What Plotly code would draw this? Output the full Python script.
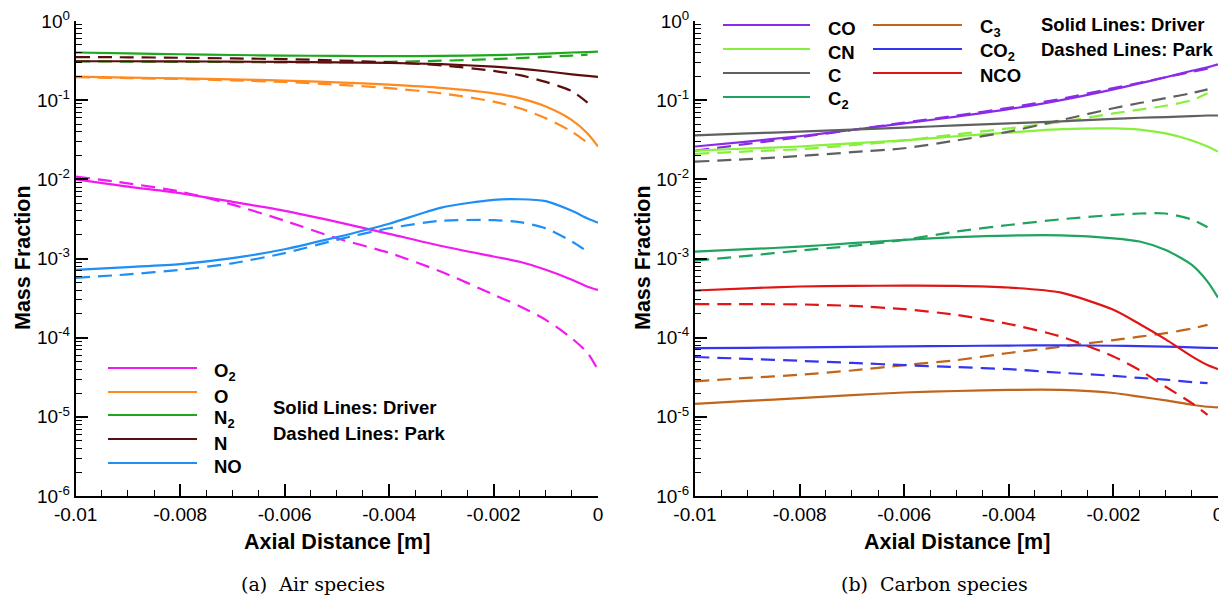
import plotly.graph_objects as go
from plotly.subplots import make_subplots

# The page body adds an 8 px margin, so the figure is drawn 8 px smaller
# and every pixel position below is given in reference-image pixels.
OX, OY = 8, 8
W, H = 1227 - OX, 598 - OY

# ---------------- data ----------------
x_solid = [-0.01, -0.009, -0.008, -0.007, -0.006, -0.005, -0.004, -0.003, -0.002, -0.0015, -0.001, -0.0005, -0.0002, 0.0]
x_dashed = [-0.01, -0.009, -0.008, -0.007, -0.006, -0.005, -0.004, -0.003, -0.002, -0.0015, -0.001, -0.0005, -0.0002]
x_dashed_o2 = [-0.01, -0.009, -0.008, -0.007, -0.006, -0.005, -0.004, -0.003, -0.002, -0.0015, -0.001, -0.0005, -0.0002, 0.0]

# (a) Air species
o2_driver = [0.0100, 0.0081, 0.0067, 0.0052, 0.0040, 0.0029, 0.00205, 0.00144, 0.00106, 0.00091, 0.00072, 0.00054, 0.00044, 0.0004]
o2_park = [0.0108, 0.0089, 0.0070, 0.0048, 0.0030, 0.0018, 0.00118, 0.00068, 0.00035, 0.00025, 0.000168, 9.8e-5, 6.4e-5, 3.9e-5]
o_driver = [0.198, 0.193, 0.188, 0.183, 0.177, 0.168, 0.157, 0.143, 0.122, 0.106, 0.083, 0.056, 0.038, 0.026]
o_park = [0.195, 0.190, 0.185, 0.178, 0.170, 0.157, 0.142, 0.122, 0.096, 0.079, 0.059, 0.040, 0.029]
n2_driver = [0.40, 0.39, 0.38, 0.372, 0.366, 0.362, 0.36, 0.362, 0.37, 0.378, 0.388, 0.40, 0.405, 0.41]
n2_park = [0.31, 0.307, 0.305, 0.303, 0.30, 0.30, 0.305, 0.315, 0.33, 0.34, 0.352, 0.366, 0.375]
n_driver = [0.31, 0.31, 0.309, 0.307, 0.304, 0.30, 0.295, 0.285, 0.265, 0.25, 0.232, 0.212, 0.203, 0.197]
n_park = [0.35, 0.348, 0.343, 0.337, 0.33, 0.318, 0.30, 0.275, 0.235, 0.207, 0.17, 0.13, 0.093]
no_driver = [0.00072, 0.00078, 0.00085, 0.00101, 0.00131, 0.00186, 0.00275, 0.0044, 0.0055, 0.0056, 0.0053, 0.0040, 0.0032, 0.00284]
no_park = [0.00057, 0.00063, 0.00072, 0.00087, 0.00117, 0.00172, 0.00241, 0.0030, 0.00305, 0.00288, 0.0024, 0.00164, 0.00122]

# (b) Carbon species
co_driver = [0.026, 0.030, 0.035, 0.042, 0.051, 0.062, 0.077, 0.100, 0.137, 0.163, 0.195, 0.235, 0.26, 0.284]
co_park = [0.023, 0.028, 0.034, 0.042, 0.052, 0.064, 0.080, 0.104, 0.142, 0.166, 0.195, 0.228, 0.25]
cn_driver = [0.023, 0.0245, 0.026, 0.0285, 0.031, 0.035, 0.039, 0.043, 0.044, 0.0425, 0.038, 0.031, 0.026, 0.0224]
cn_park = [0.021, 0.0225, 0.024, 0.027, 0.031, 0.037, 0.044, 0.053, 0.068, 0.076, 0.085, 0.10, 0.122]
c_driver = [0.036, 0.038, 0.040, 0.0425, 0.045, 0.048, 0.051, 0.054, 0.058, 0.060, 0.061, 0.063, 0.064, 0.064]
c_park = [0.0167, 0.018, 0.0197, 0.022, 0.0247, 0.031, 0.040, 0.056, 0.079, 0.092, 0.106, 0.123, 0.137]
c2_driver = [0.00122, 0.00131, 0.00141, 0.00156, 0.00172, 0.00186, 0.00195, 0.00196, 0.0018, 0.00164, 0.00128, 0.00083, 0.00051, 0.00032]
c2_park = [0.00094, 0.00108, 0.00126, 0.00144, 0.00172, 0.00219, 0.00265, 0.00313, 0.00355, 0.0037, 0.0037, 0.0031, 0.00248]
c3_driver = [1.46e-5, 1.59e-5, 1.72e-5, 1.88e-5, 2.03e-5, 2.12e-5, 2.19e-5, 2.19e-5, 2.0e-5, 1.8e-5, 1.61e-5, 1.42e-5, 1.34e-5, 1.32e-5]
c3_park = [2.8e-5, 3.1e-5, 3.4e-5, 3.85e-5, 4.5e-5, 5.2e-5, 6.4e-5, 7.7e-5, 9.3e-5, 1.03e-4, 1.14e-4, 1.3e-4, 1.45e-4]
co2_driver = [7.36e-5, 7.45e-5, 7.55e-5, 7.65e-5, 7.75e-5, 7.85e-5, 7.95e-5, 8.0e-5, 7.9e-5, 7.8e-5, 7.7e-5, 7.55e-5, 7.45e-5, 7.4e-5]
co2_park = [5.7e-5, 5.4e-5, 5.1e-5, 4.8e-5, 4.5e-5, 4.25e-5, 4.0e-5, 3.6e-5, 3.3e-5, 3.1e-5, 2.95e-5, 2.75e-5, 2.66e-5]
nco_driver = [0.000394, 0.00042, 0.000443, 0.00045, 0.000455, 0.000452, 0.00043, 0.00037, 0.000225, 0.000149, 9.5e-5, 5.8e-5, 4.5e-5, 4.0e-5]
nco_park = [2.65e-4, 2.65e-4, 2.63e-4, 2.52e-4, 2.29e-4, 1.94e-4, 1.49e-4, 1.03e-4, 5.8e-5, 3.9e-5, 2.4e-5, 1.49e-5, 1.06e-5]

x_tick_vals = [-0.01, -0.008, -0.006, -0.004, -0.002, 0.0]
x_tick_text = ["-0.01", "-0.008", "-0.006", "-0.004", "-0.002", "0"]
y_tick_vals = [1e-6, 1e-5, 1e-4, 1e-3, 1e-2, 1e-1, 1e0]
y_tick_text = ["10<sup>-6</sup>", "10<sup>-5</sup>", "10<sup>-4</sup>", "10<sup>-3</sup>",
               "10<sup>-2</sup>", "10<sup>-1</sup>", "10<sup>0</sup>"]

# ---------------- styling ----------------
air_species = [
    ("O<sub>2</sub>", "#f21af2", o2_driver, x_dashed_o2, o2_park),
    ("O", "#ff8a1f", o_driver, x_dashed, o_park),
    ("N<sub>2</sub>", "#1ea81e", n2_driver, x_dashed, n2_park),
    ("N", "#5c0d0d", n_driver, x_dashed, n_park),
    ("NO", "#1f8ff5", no_driver, x_dashed, no_park),
]
carbon_species = [
    ("CO", "#8a2be8", co_driver, x_dashed, co_park),
    ("CN", "#86f03a", cn_driver, x_dashed, cn_park),
    ("C", "#606060", c_driver, x_dashed, c_park),
    ("C<sub>2</sub>", "#1fa35f", c2_driver, x_dashed, c2_park),
    ("C<sub>3</sub>", "#c0651a", c3_driver, x_dashed, c3_park),
    ("CO<sub>2</sub>", "#3535f0", co2_driver, x_dashed, co2_park),
    ("NCO", "#e01515", nco_driver, x_dashed, nco_park),
]

FONT = "Liberation Sans, Arial, sans-serif"
LW = 2.2
DASH = "14px,8px"

fig = make_subplots(rows=1, cols=2, horizontal_spacing=0.05)

for col, group in ((1, air_species), (2, carbon_species)):
    for name, color, yd, xp, yp in group:
        fig.add_trace(go.Scatter(x=x_solid, y=yd, mode="lines", name=name,
                                 line=dict(color=color, width=LW, shape="spline", smoothing=0.7),
                                 showlegend=False, hoverinfo="skip"), row=1, col=col)
        fig.add_trace(go.Scatter(x=xp, y=yp, mode="lines", name=name + " (Park)",
                                 line=dict(color=color, width=LW, dash=DASH, shape="spline", smoothing=0.7),
                                 showlegend=False, hoverinfo="skip"), row=1, col=col)

# reference pixel -> paper helpers
def px(x):
    return (x - OX) / W

def py(y):
    return 1 - (y - OY) / H

left_dom = [px(75.7), px(598)]
right_dom = [px(695), px(1218)]
y_dom = [py(496), py(21)]

minor_x = [round(-0.01 + i * 0.0005, 5) for i in range(21)]
minor_y = [m * 10 ** e for e in range(-6, 0) for m in range(2, 10)]

for i, dom in ((1, left_dom), (2, right_dom)):
    xa = "xaxis" if i == 1 else "xaxis2"
    ya = "yaxis" if i == 1 else "yaxis2"
    fig.layout[xa].update(
        domain=dom, range=[-0.01, 0.0], showgrid=False, zeroline=False, automargin=False,
        ticklabeloverflow="allow",
        showline=True, linecolor="black", linewidth=2,
        ticks="inside", ticklen=12, tickwidth=1.5, tickcolor="black",
        tickmode="array", tickvals=x_tick_vals, ticktext=x_tick_text,
        tickfont=dict(family=FONT, size=19, color="black"),
        minor=dict(ticks="inside", ticklen=6, tickwidth=1.2, tickcolor="black",
                   tickmode="array", tickvals=minor_x, showgrid=False),
    )
    fig.layout[ya].update(
        domain=y_dom, type="log", range=[-6, 0], showgrid=False, zeroline=False, automargin=False,
        ticklabeloverflow="allow",
        showline=True, linecolor="black", linewidth=2,
        ticks="inside", ticklen=12, tickwidth=1.5, tickcolor="black",
        tickmode="array", tickvals=y_tick_vals, ticktext=y_tick_text,
        tickfont=dict(family=FONT, size=19, color="black"),
        minor=dict(ticks="inside", ticklen=6, tickwidth=1.2, tickcolor="black",
                   tickmode="array", tickvals=minor_y, showgrid=False),
    )

annotations = []
shapes = []

def text(x, y, s, size=18, bold=True, xanchor="left", family=FONT, angle=0):
    annotations.append(dict(
        x=px(x), y=py(y), xref="paper", yref="paper", text=(f"<b>{s}</b>" if bold else s),
        showarrow=False, xanchor=xanchor, yanchor="middle", textangle=angle,
        font=dict(family=family, size=size, color="black")))

def legline(x0, x1, y, color):
    shapes.append(dict(type="line", xref="paper", yref="paper",
                       x0=px(x0), x1=px(x1), y0=py(y), y1=py(y),
                       line=dict(color=color, width=2.2)))

# axis titles
text(337, 542, "Axial Distance [m]", size=21.5, xanchor="center")
text(957, 542, "Axial Distance [m]", size=21.5, xanchor="center")
text(23, 258, "Mass Fraction", size=21.5, xanchor="center", angle=-90)
text(643, 258, "Mass Fraction", size=21.5, xanchor="center", angle=-90)

# captions
text(313, 584, "(a)  Air species", size=19, bold=False, xanchor="center", family="DejaVu Serif, serif")
text(934, 584, "(b)  Carbon species", size=19, bold=False, xanchor="center", family="DejaVu Serif, serif")

# legend (a)
leg_a_y = [372, 396, 419, 443, 467]
for (name, color, *_), yy in zip(air_species, leg_a_y):
    legline(108, 197, yy - 4, color)
    text(212, yy, name, size=18.5)
text(271, 407, "Solid Lines: Driver", size=18.5)
text(271, 433, "Dashed Lines: Park", size=18.5)

# legend (b)
leg_b_col1_y = [28, 52, 76, 100]
for (name, color, *_), yy in zip(carbon_species[:4], leg_b_col1_y):
    legline(723, 810, yy - 3, color)
    text(826, yy, name, size=18.5)
leg_b_col2_y = [28, 52, 76]
for (name, color, *_), yy in zip(carbon_species[4:], leg_b_col2_y):
    legline(873, 962, yy - 3, color)
    text(978, yy, name, size=18.5)
text(1039, 25, "Solid Lines: Driver", size=18.5)
text(1039, 50, "Dashed Lines: Park", size=18.5)

fig.update_layout(
    width=W, height=H, margin=dict(l=0, r=0, t=0, b=0),
    paper_bgcolor="white", plot_bgcolor="white",
    showlegend=False, annotations=annotations, shapes=shapes,
    font=dict(family=FONT, color="black"),
)

fig.write_html("out.html")
